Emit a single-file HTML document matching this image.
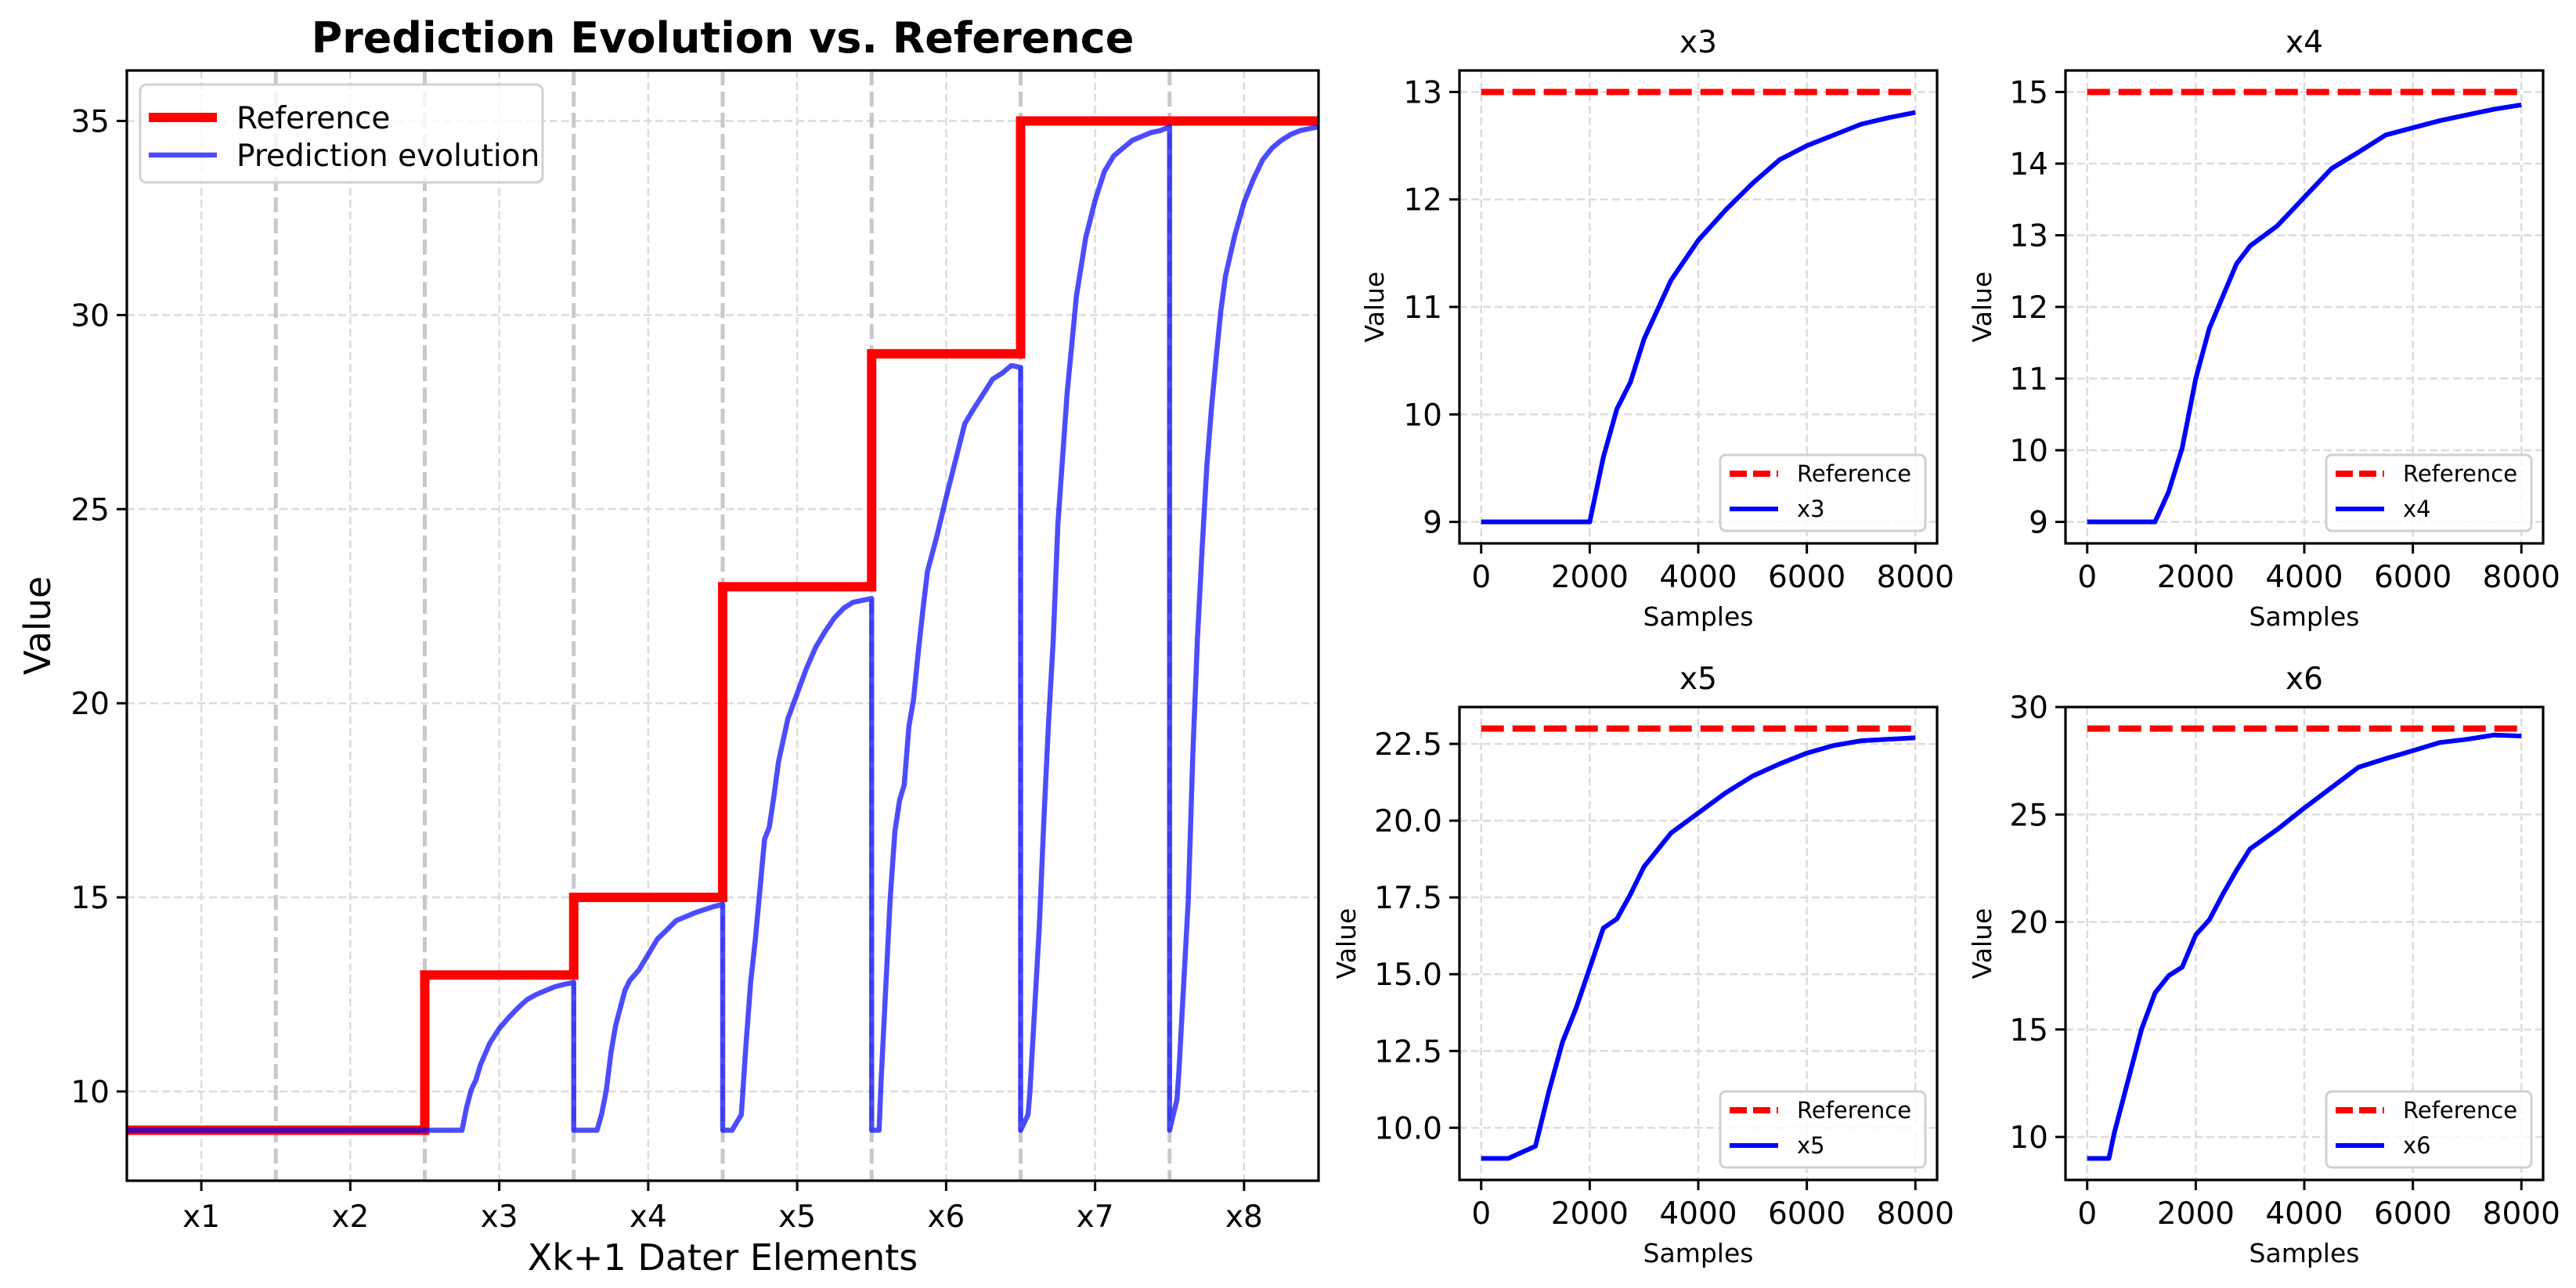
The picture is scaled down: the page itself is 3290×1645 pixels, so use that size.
<!DOCTYPE html>
<html><head><meta charset="utf-8">
<style>
html,body{margin:0;padding:0;background:#fff;}
svg{display:block;font-family:"DejaVu Sans","Liberation Sans",sans-serif;}
</style></head>
<body>
<svg id="fig" xmlns="http://www.w3.org/2000/svg" width="3290" height="1645" viewBox="0 0 3290 1645">
<rect width="3290" height="1645" fill="#fff"/>
</svg>
<script>
// ---------- data ----------
const categories = ["x1","x2","x3","x4","x5","x6","x7","x8"];
const referenceValues = [9,9,13,15,23,29,35,35];
const samples = [0,400,500,1000,1250,1500,1750,2000,2250,2500,2750,3000,3500,4000,4500,5000,5500,6000,6500,7000,7500,8000];
const predX3 = [9,9,9,9,9,9,9,9,9.6,10.05,10.3,10.7,11.25,11.62,11.9,12.15,12.37,12.5,12.6,12.7,12.76,12.81];
const predX4 = [9,9,9,9,9,9.42,10.03,11.0,11.7,12.15,12.6,12.85,13.13,13.53,13.93,14.16,14.4,14.5,14.6,14.68,14.76,14.82];
const predX5 = [9,9,9,9.4,11.2,12.8,13.9,15.2,16.5,16.8,17.6,18.5,19.6,20.25,20.9,21.45,21.85,22.2,22.45,22.6,22.65,22.7];
const predX6 = [9,9,10.2,15.0,16.7,17.5,17.9,19.4,20.1,21.3,22.4,23.4,24.3,25.3,26.25,27.2,27.6,27.97,28.35,28.5,28.7,28.65];
const predX7 = [9,9.4,10,14.2,17.0,19.5,21.6,24.6,26.3,28.0,29.25,30.5,32.0,32.95,33.7,34.1,34.3,34.5,34.6,34.7,34.75,34.85];
const predX8 = [9,9.8,10.5,14.9,18.7,21.7,24.0,26.1,27.6,28.9,30.1,31.0,32.05,32.9,33.5,34.0,34.3,34.5,34.65,34.75,34.8,34.85];
const mainYTicks = [10,15,20,25,30,35];
const x3YTicks = [9,10,11,12,13];
const x4YTicks = [9,10,11,12,13,14,15];
const x5YTicks = [10,12.5,15,17.5,20,22.5];
const x6YTicks = [10,15,20,25,30];
const sampleTicks = [0,2000,4000,6000,8000];

const NS="http://www.w3.org/2000/svg";
const svg=document.getElementById('fig');
function mk(tag,attrs,parent){const e=document.createElementNS(NS,tag);for(const k in attrs)e.setAttribute(k,attrs[k]);(parent||svg).appendChild(e);return e;}
function txt(s,attrs,parent){const e=mk('text',attrs,parent);e.textContent=s;return e;}

// ---------- main axes ----------
const M={l:162,r:1684,t:90,b:1508,x0:0.5,x1:8.5,y0:7.7,y1:36.3};
const mx=v=>M.l+(v-M.x0)/(M.x1-M.x0)*(M.r-M.l);
const my=v=>M.b-(v-M.y0)/(M.y1-M.y0)*(M.b-M.t);
const mainG=mk('g',{});


const clipM=mk('clipPath',{id:'clipM'});mk('rect',{x:M.l,y:M.t,width:M.r-M.l,height:M.b-M.t},clipM);
mainYTicks.forEach(v=>{const g=mk('line',{x1:M.l,x2:M.r,y1:my(v),y2:my(v),stroke:'#dcdcdc','stroke-width':2.5,'stroke-dasharray':'10,5'},mainG);
});
categories.forEach((c,i)=>{const g=mk('line',{x1:mx(i+1),x2:mx(i+1),y1:M.t,y2:M.b,stroke:'#dcdcdc','stroke-width':2.5,'stroke-dasharray':'10,5'},mainG);
});
for(let i=1;i<categories.length;i++){const s=mk('line',{x1:mx(i+0.5),x2:mx(i+0.5),y1:M.t,y2:M.b,stroke:'#c8c8c8','stroke-width':5,'stroke-dasharray':'19,8'},mainG);
}
let rp='';referenceValues.forEach((v,i)=>{const a=mx(i+0.5),b=mx(i+1.5);rp+=(i===0?'M':'L')+a+','+my(v)+'L'+b+','+my(v);});
const refLine=mk('path',{d:rp,fill:'none',stroke:'#ff0000','stroke-width':12,'stroke-linejoin':'miter','clip-path':'url(#clipM)'},mainG);

const preds={2:predX3,3:predX4,4:predX5,5:predX6,6:predX7,7:predX8};
let pp='M'+mx(0.5)+','+my(9)+'L'+mx(2.5)+','+my(9);
for(let k=2;k<8;k++){preds[k].forEach((v,j)=>{pp+='L'+mx(k+0.5+samples[j]/8000)+','+my(v);});}
const predLine=mk('path',{d:pp,fill:'none',stroke:'#0000ff','stroke-opacity':0.7,'stroke-width':6.5,'stroke-linejoin':'round','clip-path':'url(#clipM)'},mainG);

const mf=mk('rect',{x:M.l,y:M.t,width:M.r-M.l,height:M.b-M.t,fill:'none',stroke:'#000','stroke-width':3.2},mainG);

mainYTicks.forEach(v=>{mk('line',{x1:M.l-13,x2:M.l,y1:my(v),y2:my(v),stroke:'#000','stroke-width':3},mainG);
const t=txt(String(v),{x:M.l-22,y:my(v)+14,'font-size':39,'text-anchor':'end'},mainG);
});
categories.forEach((c,i)=>{mk('line',{x1:mx(i+1),x2:mx(i+1),y1:M.b,y2:M.b+13,stroke:'#000','stroke-width':3},mainG);
const t=txt(c,{x:mx(i+1),y:1567,'font-size':39,'text-anchor':'middle'},mainG);
});

const t1=txt('Prediction Evolution vs. Reference',{x:923,y:67,'font-size':54,'font-weight':'bold','text-anchor':'middle'},mainG);

const t2=txt('Xk+1 Dater Elements',{x:923,y:1622,'font-size':46,'text-anchor':'middle'},mainG);

const t3=txt('Value',{x:0,y:0,'font-size':46,'text-anchor':'middle',transform:'translate(64,799) rotate(-90)'},mainG);

const lgm=mk('g',{},mainG);

mk('rect',{x:179,y:108,width:514,height:125,rx:8,fill:'#fff','fill-opacity':0.8,stroke:'#d0d0d0','stroke-width':3},lgm);
const l1=mk('line',{x1:190,x2:277,y1:150,y2:150,stroke:'#ff0000','stroke-width':12},lgm);

txt('Reference',{x:302,y:164,'font-size':39},lgm);
const l2=mk('line',{x1:190,x2:277,y1:198,y2:198,stroke:'#0000ff','stroke-opacity':0.7,'stroke-width':6.5},lgm);

txt('Prediction evolution',{x:302,y:212,'font-size':39},lgm);

// ---------- subplots ----------
const panels=[
 {name:'x3',vals:predX3,ref:referenceValues[2],ticks:x3YTicks,fmt:v=>String(v),l:1864,t:90,y0:8.8,y1:13.2,ylx:1756},
 {name:'x4',vals:predX4,ref:referenceValues[3],ticks:x4YTicks,fmt:v=>String(v),l:2638,t:90,y0:8.7,y1:15.3,ylx:2532},
 {name:'x5',vals:predX5,ref:referenceValues[4],ticks:x5YTicks,fmt:v=>v.toFixed(1),l:1864,t:903,y0:8.3,y1:23.7,ylx:1720},
 {name:'x6',vals:predX6,ref:referenceValues[5],ticks:x6YTicks,fmt:v=>String(v),l:2638,t:903,y0:8.0,y1:30.0,ylx:2532}
];
panels.forEach(p=>{
 const W=610,H=604,r=p.l+W,b=p.t+H;
 const sx=s=>p.l+(s+400)/8800*W;
 const sy=v=>b-(v-p.y0)/(p.y1-p.y0)*H;
 const g=mk('g',{});
 
 
 p.ticks.forEach(v=>{mk('line',{x1:p.l,x2:r,y1:sy(v),y2:sy(v),stroke:'#dcdcdc','stroke-width':2.5,'stroke-dasharray':'10,5'},g);});
 sampleTicks.forEach(s=>{mk('line',{x1:sx(s),x2:sx(s),y1:p.t,y2:b,stroke:'#dcdcdc','stroke-width':2.5,'stroke-dasharray':'10,5'},g);});
 const rl=mk('line',{x1:sx(0),x2:sx(8000),y1:sy(p.ref),y2:sy(p.ref),stroke:'#ff0000','stroke-width':8,'stroke-dasharray':'29,11'},g);
 
 let d='';p.vals.forEach((v,j)=>{d+=(j?'L':'M')+sx(samples[j])+','+sy(v);});
 const pl=mk('path',{d:d,fill:'none',stroke:'#0000ff','stroke-width':6,'stroke-linejoin':'round'},g);
 
 mk('rect',{x:p.l,y:p.t,width:W,height:H,fill:'none',stroke:'#000','stroke-width':3.2},g);
 p.ticks.forEach(v=>{mk('line',{x1:p.l-13,x2:p.l,y1:sy(v),y2:sy(v),stroke:'#000','stroke-width':3},g);
  const t=txt(p.fmt(v),{x:p.l-22,y:sy(v)+14,'font-size':39,'text-anchor':'end'},g);
  });
 sampleTicks.forEach(s=>{mk('line',{x1:sx(s),x2:sx(s),y1:b,y2:b+13,stroke:'#000','stroke-width':3},g);
  const t=txt(String(s),{x:sx(s),y:b+56,'font-size':39,'text-anchor':'middle'},g);
  });
 const tt=txt(p.name,{x:p.l+W/2,y:p.t-23,'font-size':39,'text-anchor':'middle'},g);
 
 const xl=txt('Samples',{x:p.l+W/2,y:b+105,'font-size':33,'text-anchor':'middle'},g);
 
 const yl=txt('Value',{x:0,y:0,'font-size':33,'text-anchor':'middle',transform:'translate('+(p.ylx+11)+','+(p.t+H/2)+') rotate(-90)'},g);
 
 const lg=mk('g',{},g);
 
 const lx=p.l+333, ly=p.t+491;
 mk('rect',{x:lx,y:ly,width:262,height:97,rx:7,fill:'#fff','fill-opacity':0.8,stroke:'#d0d0d0','stroke-width':3},lg);
 mk('line',{x1:lx+12,x2:lx+74,y1:ly+24,y2:ly+24,stroke:'#ff0000','stroke-width':8,'stroke-dasharray':'22,8'},lg);
 txt('Reference',{x:lx+98,y:ly+34,'font-size':29},lg);
 mk('line',{x1:lx+12,x2:lx+74,y1:ly+69,y2:ly+69,stroke:'#0000ff','stroke-width':6},lg);
 txt(p.name,{x:lx+98,y:ly+79,'font-size':29},lg);
});
</script>
</body></html>
